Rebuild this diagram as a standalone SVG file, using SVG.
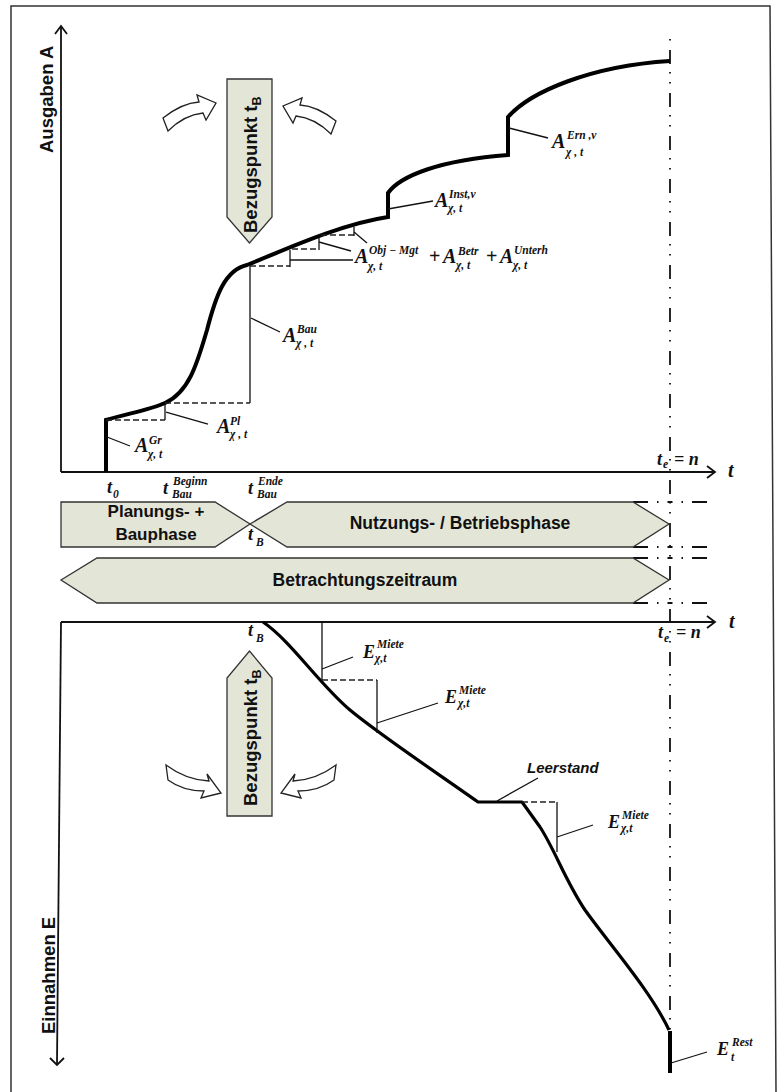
<svg xmlns="http://www.w3.org/2000/svg" width="779" height="1092" viewBox="0 0 779 1092">
<defs>
<style>
.frame{fill:none;stroke:#333;stroke-width:1.5}
.axis{fill:none;stroke:#111;stroke-width:1.8}
.thick{fill:none;stroke:#000;stroke-width:4;stroke-linejoin:miter}
.thickb{fill:none;stroke:#000;stroke-width:3.2;stroke-linejoin:round}
.thin{fill:none;stroke:#111;stroke-width:1.3}
.dash{fill:none;stroke:#222;stroke-width:1.3;stroke-dasharray:6 3}
.ddv{fill:none;stroke:#111;stroke-width:1.8;stroke-dasharray:1.5 9.5 14 8 1.5 8.5}
.ddh{fill:none;stroke:#111;stroke-width:1.8;stroke-dasharray:15 9 1.5 9 5 9 1.5 9}
.band{fill:#e3e6d7;stroke:#333;stroke-width:1.3}
.hol{fill:#fff;stroke:#222;stroke-width:1.3;stroke-linejoin:miter}
.lbl{font-family:"Liberation Sans",Arial,sans-serif;font-weight:bold;fill:#111}
.m{font-family:"Liberation Serif","Times New Roman",serif;font-weight:bold;font-style:italic;font-size:20px;fill:#111}
.me{font-family:"Liberation Serif","Times New Roman",serif;font-weight:bold;font-style:italic;font-size:18px;fill:#111}
.s{font-family:"Liberation Serif","Times New Roman",serif;font-weight:bold;font-style:italic;font-size:11.5px;fill:#111}
.pl{font-family:"Liberation Serif","Times New Roman",serif;font-weight:bold;font-size:20px;fill:#111}
</style>
</defs>

<path class="frame" d="M11,1092 L11,6 L770,6 L776,1092"/>

<g id="axes">
<path class="axis" d="M61,472 L61,27"/>
<path class="axis" d="M55,34 L61,26 L67,34"/>
<path class="axis" d="M61,472 L714,472"/>
<path class="axis" d="M707,466 L715,472 L707,478"/>
<path class="axis" d="M61,622 L714,622"/>
<path class="axis" d="M707,616 L715,622 L707,628"/>
<path class="axis" d="M61,622 L57,1064"/>
<path class="axis" d="M50,1058 L57,1065 L64,1058"/>
<text class="lbl" font-size="18.5" transform="translate(53,153) rotate(-90)">Ausgaben A</text>
<text class="lbl" font-size="18.5" transform="translate(55,1034) rotate(-90)">Einnahmen E</text>
<text class="m" x="728" y="477">t</text>
<text class="m" x="729" y="628">t</text>
</g>

<g id="end-line">
<path class="ddv" d="M670,39 L670,1073"/>
<path class="ddh" d="M633,502 L713,502"/>
<path class="ddh" d="M633,547 L713,547"/>
<path class="ddh" d="M633,558 L713,558"/>
<path class="ddh" d="M633,603 L713,603"/>
<text class="me" x="657" y="465">t</text>
<text class="s" x="663" y="468" font-size="10">e</text>
<text class="me" x="674" y="465">= n</text>
<text class="me" x="658" y="638">t</text>
<text class="s" x="664" y="642" font-size="10">e</text>
<text class="me" x="676" y="638">= n</text>
</g>

<g id="connectors">
<path class="thick" d="M106,472 L106,420 C125,414 150,410 165,403 C190,392 198,360 207,330 C216,295 225,270 247,265 C280,252 340,224 388,217 L388,193 C400,176 440,160 508,155 L508,117 C530,92 590,66 670,61"/>
<path class="dash" d="M106,420 L165,420"/>
<path class="thin" d="M165,403 L165,420"/>
<path class="dash" d="M165,403 L250,403"/>
<path class="thin" d="M250,265 L250,403"/>
<path class="dash" d="M250,266 L290,266"/>
<path class="thin" d="M290,250 L290,267"/>
<path class="dash" d="M292,249 L319,249"/>
<path class="thin" d="M319,237 L319,250"/>
<path class="dash" d="M321,235 L354,235"/>
<path class="thin" d="M354,227 L354,236"/>
<path class="thin" d="M107,437 L130,446"/>
<path class="thin" d="M166,412 L208,424"/>
<path class="thin" d="M251,318 L280,332"/>
<path class="thin" d="M290,260 L353,260"/>
<path class="thin" d="M319,242 L351,251"/>
<path class="thin" d="M354,232 L367,243"/>
<path class="thin" d="M388,209 L433,201"/>
<path class="thin" d="M509,128 L548,138"/>
<path class="thickb" d="M263,622 C290,640 320,685 350,710 C380,735 440,775 478,802 L522,802 L540,827 C555,850 565,880 585,910 C610,945 650,990 669,1030"/>
<path class="thick" d="M670,1031 L670,1073"/>
<path class="thin" d="M322,622 L322,680"/>
<path class="dash" d="M322,680 L377,680"/>
<path class="thin" d="M377,680 L377,733"/>
<path class="dash" d="M522,802 L557,802"/>
<path class="thin" d="M557,802 L557,852"/>
<path class="thin" d="M322,669 L353,657"/>
<path class="thin" d="M377,723 L438,703"/>
<path class="thin" d="M497,801 L538,778"/>
<path class="thin" d="M557,837 L593,825"/>
<path class="thin" d="M671,1063 L707,1052"/>
</g>

<g id="ref-top">
<polygon class="band" points="227,79 272,79 272,217 249.5,243 227,217"/>
<text class="lbl" font-size="18.5" transform="translate(257,233) rotate(-90)">Bezugspunkt t<tspan font-size="12.5" dy="4">B</tspan></text>
<path class="hol" d="M163,118 Q182,103 199,102 L197,95 L216,103 L206,120 L203,113 Q184,115 168,131 Z"/>
<path class="hol" d="M336,121 Q317,106 300,105 L302,98 L283,106 L293,123 L296,116 Q315,118 331,134 Z"/>
</g>

<g id="ref-bottom">
<polygon class="band" points="227,816 227,678 249.5,651 272,678 272,816"/>
<text class="lbl" font-size="18.5" transform="translate(257,806) rotate(-90)">Bezugspunkt t<tspan font-size="12.5" dy="4">B</tspan></text>
<path class="hol" d="M166,765 Q186,780 209,781 L207,774 L221,793 L201,798 L204,791 Q183,791 168,780 Z"/>
<path class="hol" d="M336,765 Q316,780 293,781 L295,774 L281,793 L301,798 L298,791 Q319,791 334,780 Z"/>
</g>

<g id="phase-planung">
<polygon class="band" points="61,502 215,502 250,524 215,547 61,547"/>
<text class="lbl" font-size="17" x="156" y="517" text-anchor="middle">Planungs- +</text>
<text class="lbl" font-size="17" x="156" y="540" text-anchor="middle">Bauphase</text>
</g>

<g id="phase-nutzung">
<polygon class="band" points="287,502 633,502 669,524 633,547 287,547 250,524"/>
<text class="lbl" font-size="17.5" x="460" y="529" text-anchor="middle">Nutzungs- / Betriebsphase</text>
</g>

<g id="zeitraum">
<polygon class="band" points="61,580 97,558 633,558 669,580 633,603 97,603"/>
<text class="lbl" font-size="17.5" x="365" y="586" text-anchor="middle">Betrachtungszeitraum</text>
</g>

<g id="time-labels">
<text class="me" x="107" y="493">t</text>
<text class="s" x="113" y="498">0</text>
<text class="me" x="163" y="494">t</text>
<text class="s" x="173" y="485">Beginn</text>
<text class="s" x="172" y="498">Bau</text>
<text class="me" x="248" y="494">t</text>
<text class="s" x="258" y="485">Ende</text>
<text class="s" x="257" y="498">Bau</text>
<text class="me" x="248" y="540">t</text>
<text class="s" x="256" y="546">B</text>
<text class="me" x="248" y="636">t</text>
<text class="s" x="256" y="642">B</text>
</g>

<g id="label-gr">
<text class="m" x="135" y="452">A</text>
<text class="s" x="149" y="444">Gr</text>
<text class="s" x="148" y="458">χ, t</text>
</g>
<g id="label-pl">
<text class="m" x="217" y="433">A</text>
<text class="s" x="230" y="425">Pl</text>
<text class="s" x="230" y="438">χ , t</text>
</g>
<g id="label-bau">
<text class="m" x="283" y="342">A</text>
<text class="s" x="297" y="333">Bau</text>
<text class="s" x="296" y="347">χ , t</text>
</g>
<g id="label-betrieb">
<text class="m" x="355" y="263">A</text>
<text class="s" x="369" y="254">Obj − Mgt</text>
<text class="s" x="368" y="270">χ, t</text>
<text class="pl" x="429" y="263">+</text>
<text class="m" x="443" y="263">A</text>
<text class="s" x="458" y="255">Betr</text>
<text class="s" x="456" y="269">χ, t</text>
<text class="pl" x="486" y="263">+</text>
<text class="m" x="500" y="263">A</text>
<text class="s" x="514" y="254">Unterh</text>
<text class="s" x="513" y="269">χ, t</text>
</g>
<g id="label-inst">
<text class="m" x="435" y="207">A</text>
<text class="s" x="449" y="198">Inst,ν</text>
<text class="s" x="448" y="212">χ, t</text>
</g>
<g id="label-ern">
<text class="m" x="552" y="148">A</text>
<text class="s" x="567" y="139">Ern ,ν</text>
<text class="s" x="566" y="156">χ , t</text>
</g>

<g id="label-e1">
<text class="me" x="363" y="658">E</text>
<text class="s" x="377" y="648">Miete</text>
<text class="s" x="375" y="662">χ,t</text>
</g>
<g id="label-e2">
<text class="me" x="445" y="703">E</text>
<text class="s" x="459" y="694">Miete</text>
<text class="s" x="458" y="707">χ,t</text>
</g>
<g id="label-leerstand">
<text class="lbl" font-size="15" font-style="italic" x="527" y="773">Leerstand</text>
</g>
<g id="label-e3">
<text class="me" x="608" y="828">E</text>
<text class="s" x="622" y="819">Miete</text>
<text class="s" x="621" y="832">χ,t</text>
</g>
<g id="label-rest">
<text class="me" x="717" y="1055">E</text>
<text class="s" x="732" y="1046" font-style="normal">Rest</text>
<text class="s" x="731" y="1061">t</text>
</g>
</svg>
